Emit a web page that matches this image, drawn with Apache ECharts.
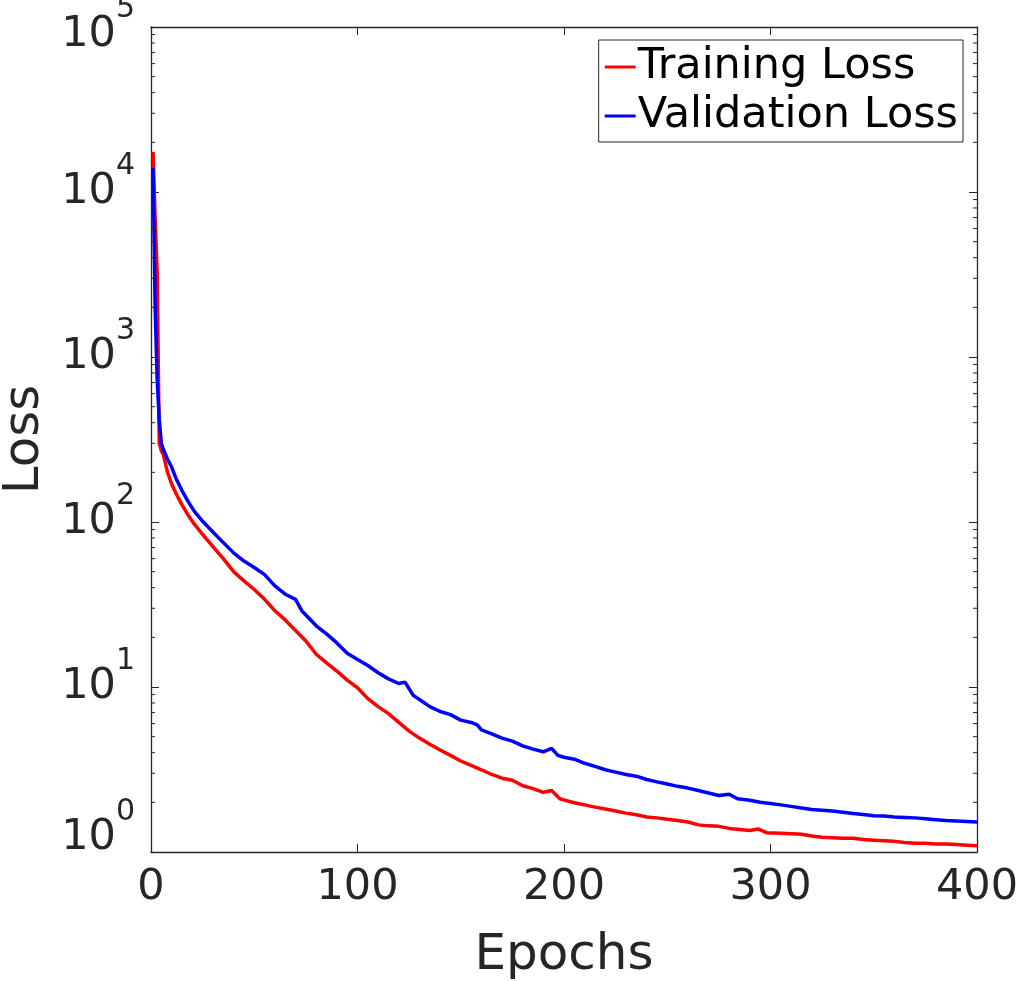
<!DOCTYPE html>
<html>
<head>
<meta charset="utf-8">
<script src="https://cdn.jsdelivr.net/npm/echarts@6/dist/echarts.min.js"></script>
<style>
  html, body { margin: 0; padding: 0; background: #fff; }
  #chart { width: 1019px; height: 981px; }
</style>
</head>
<body>
<div id="chart"></div>
<script>
const trainEpochs = [1, 2, 3, 4, 5, 6, 8, 10, 12, 15, 18, 21, 25, 30, 35, 40, 45, 50, 55, 60, 65, 70, 75, 80, 85, 90, 95, 100,
  105, 110, 115, 120, 125, 130, 135, 140, 145, 150, 155, 160, 165, 170, 175, 180, 185, 190, 194, 198, 205, 210, 215, 220,
  225, 230, 235, 240, 245, 250, 255, 260, 265, 270, 275, 280, 285, 290, 294, 298, 305, 310, 315, 320, 325, 330, 335, 340,
  345, 350, 355, 360, 365, 370, 375, 380, 385, 390, 395, 400];
const trainLoss = [17500, 7000, 3200, 300, 270, 255, 200, 170, 150, 127, 110, 97, 84, 71, 60, 50, 44, 39, 34, 29, 25.5, 22, 19, 15.8, 14, 12.5, 11, 9.9,
  8.5, 7.6, 6.9, 6.1, 5.4, 4.9, 4.5, 4.15, 3.85, 3.56, 3.35, 3.15, 2.95, 2.8, 2.72, 2.52, 2.42, 2.3, 2.36, 2.1, 1.99, 1.93, 1.87, 1.82,
  1.77, 1.72, 1.68, 1.63, 1.61, 1.58, 1.55, 1.52, 1.46, 1.44, 1.43, 1.39, 1.37, 1.35, 1.38, 1.31, 1.30, 1.29, 1.28, 1.25, 1.23, 1.22, 1.21, 1.21,
  1.19, 1.18, 1.17, 1.16, 1.14, 1.13, 1.13, 1.12, 1.12, 1.11, 1.10, 1.09];

const valEpochs = [1, 2, 3, 4, 5, 6, 8, 10, 12, 15, 18, 21, 25, 30, 35, 40, 45, 50, 55, 60, 65, 70, 73, 80, 85, 90, 95, 100,
  105, 110, 115, 120, 123, 127, 130, 135, 140, 145, 150, 155, 158, 160, 165, 170, 175, 180, 185, 190, 194, 197, 200, 205, 210,
  215, 220, 225, 230, 235, 240, 245, 250, 255, 260, 265, 270, 275, 280, 284, 290, 295, 300, 305, 310, 315, 320, 325, 330,
  335, 340, 345, 350, 355, 360, 365, 370, 375, 380, 385, 390, 395, 400];
const valLoss = [14000, 2000, 720, 420, 300, 275, 240, 215, 185, 155, 133, 116, 101, 87, 75, 65, 58, 53, 48, 41, 36.5, 34, 29, 23.5, 21, 18.5, 16, 14.7,
  13.5, 12.2, 11.2, 10.5, 10.7, 8.9, 8.4, 7.6, 7.1, 6.8, 6.3, 6.1, 5.9, 5.5, 5.2, 4.9, 4.7, 4.4, 4.2, 4.05, 4.25, 3.85, 3.75, 3.65, 3.45,
  3.3, 3.15, 3.05, 2.95, 2.88, 2.75, 2.66, 2.58, 2.5, 2.44, 2.36, 2.28, 2.2, 2.24, 2.1, 2.06, 2.0, 1.97, 1.93, 1.89, 1.85, 1.81, 1.79, 1.77,
  1.74, 1.71, 1.69, 1.66, 1.65, 1.63, 1.62, 1.61, 1.59, 1.57, 1.55, 1.54, 1.53, 1.52];

const xTicks = [0, 100, 200, 300, 400];
const decades = [1, 10, 100, 1000, 10000];

const INK = '#262626';
const FONT = 'DejaVu Sans';

// minor log ticks 2..9 in each decade
const minorTicks = [];
decades.forEach((d) => {
  for (let k = 2; k <= 9; k++) minorTicks.push([0, d * k]);
});

// 10^n labels; the bottom one sits a little higher, the top one a little lower
const baseStyle = { fontFamily: FONT, fontSize: 43, color: INK };
const supStyle = { fontFamily: FONT, fontSize: 30, color: INK };
const labelRich = {
  b: { ...baseStyle },
  s: { ...supStyle, padding: [0, 0, 52, 0] },
  bLo: { ...baseStyle, padding: [0, 0, 28, 0] },
  sLo: { ...supStyle, padding: [0, 0, 80, 0] },
  bHi: { ...baseStyle, padding: [16, 0, 0, 0] },
  sHi: { ...supStyle, padding: [16, 0, 52, 0] },
};

const chart = echarts.init(document.getElementById('chart'));

const option = {
  animation: false,
  backgroundColor: '#fff',
  grid: { left: 151, right: 42, top: 27, bottom: 129, containLabel: false, outerBoundsMode: 'none' },
  legend: {
    data: ['Training Loss', 'Validation Loss'],
    orient: 'vertical',
    right: 56,
    top: 40,
    backgroundColor: '#fff',
    borderColor: INK,
    borderWidth: 1,
    borderRadius: 0,
    padding: [5, 5, 4, 6],
    itemGap: 5,
    itemWidth: 31,
    itemHeight: 3,
    icon: 'rect',
    textStyle: { fontFamily: FONT, fontSize: 43, color: '#000', lineHeight: 44, padding: [0, 0, 0, -3] },
  },
  xAxis: [
    {
      type: 'value',
      min: 0,
      max: 400,
      interval: 100,
      name: 'Epochs',
      nameLocation: 'middle',
      nameGap: 79,
      nameTextStyle: { fontFamily: FONT, fontSize: 50, color: INK },
      axisLine: { show: true, onZero: false, lineStyle: { color: INK, width: 1.3 } },
      axisTick: { show: true, inside: true, length: 8, lineStyle: { color: INK } },
      axisLabel: {
        fontFamily: FONT, fontSize: 43, color: INK, margin: 14,
        formatter: (v) => (xTicks.includes(v) ? String(v) : ''),
      },
      splitLine: { show: false },
    },
    {
      type: 'value',
      position: 'top',
      min: 0,
      max: 400,
      interval: 100,
      axisLine: { show: true, onZero: false, lineStyle: { color: INK, width: 1.3 } },
      axisTick: { show: true, inside: true, length: 8, lineStyle: { color: INK } },
      axisLabel: { show: false },
      splitLine: { show: false },
    },
  ],
  yAxis: [
    {
      type: 'log',
      logBase: 10,
      min: 1,
      max: 100000,
      name: 'Loss',
      nameLocation: 'middle',
      nameRotate: 90,
      nameGap: 101,
      nameTextStyle: { fontFamily: FONT, fontSize: 50, color: INK },
      axisLine: { show: true, onZero: false, lineStyle: { color: INK, width: 1.3 } },
      axisTick: { show: true, inside: true, length: 8, lineStyle: { color: INK } },
      axisLabel: {
        margin: 16,
        formatter: (v) => {
          const n = Math.round(Math.log10(v));
          const k = n === 0 ? 'Lo' : n === 5 ? 'Hi' : '';
          return '{b' + k + '|10}{s' + k + '|' + n + '}';
        },
        rich: labelRich,
      },
      splitLine: { show: false },
    },
    {
      type: 'log',
      logBase: 10,
      position: 'right',
      min: 1,
      max: 100000,
      axisLine: { show: true, onZero: false, lineStyle: { color: INK, width: 1.3 } },
      axisTick: { show: true, inside: true, length: 8, lineStyle: { color: INK } },
      axisLabel: { show: false },
      splitLine: { show: false },
    },
  ],
  series: [
    {
      name: 'Training Loss',
      type: 'line',
      data: trainEpochs.map((e, i) => [e, trainLoss[i]]),
      showSymbol: false,
      color: '#ff0000',
      lineStyle: { width: 3.5, color: '#ff0000' },
      z: 3,
    },
    {
      name: 'Validation Loss',
      type: 'line',
      data: valEpochs.map((e, i) => [e, valLoss[i]]),
      showSymbol: false,
      color: '#0000ff',
      lineStyle: { width: 3.5, color: '#0000ff' },
      z: 4,
    },
    {
      name: 'minor',
      type: 'custom',
      silent: true,
      clip: false,
      data: minorTicks,
      z: 5,
      renderItem(params, api) {
        const v = api.value(1);
        const a = api.coord([0, v]);
        const b = api.coord([400, v]);
        const st = { stroke: INK, lineWidth: 1 };
        return {
          type: 'group',
          children: [
            { type: 'line', shape: { x1: a[0], y1: a[1], x2: a[0] + 4, y2: a[1] }, style: st },
            { type: 'line', shape: { x1: b[0] - 4, y1: b[1], x2: b[0], y2: b[1] }, style: st },
          ],
        };
      },
    },
  ],
};

chart.setOption(option);
</script>
</body>
</html>
